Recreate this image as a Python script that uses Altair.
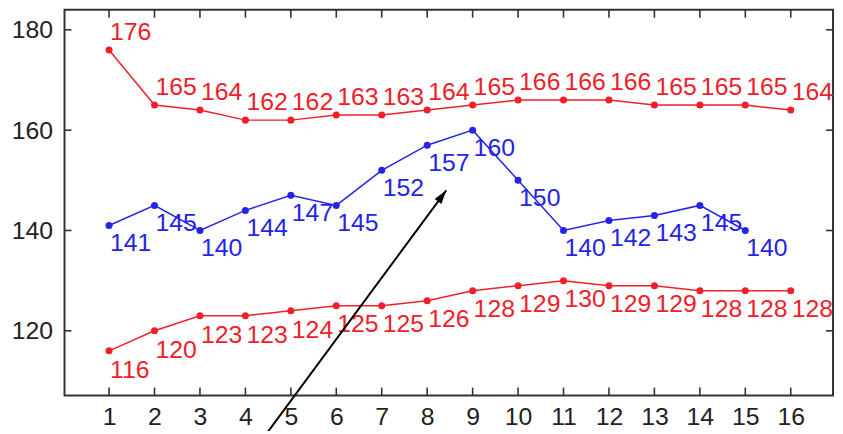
import altair as alt
import pandas as pd

# ---- data ----
x_upper = list(range(1, 17))
upper_red = [176, 165, 164, 162, 162, 163, 163, 164, 165, 166, 166, 166, 165, 165, 165, 164]
x_blue = list(range(1, 16))
blue = [141, 145, 140, 144, 147, 145, 152, 157, 160, 150, 140, 142, 143, 145, 140]
x_lower = list(range(1, 17))
lower_red = [116, 120, 123, 123, 124, 125, 125, 126, 128, 129, 130, 129, 129, 128, 128, 128]
x_ticks = list(range(1, 17))
y_ticks = [120, 140, 160, 180]
arrow_from = [4.49, 99.8]
arrow_to = [8.42, 148.0]

FONT = "Liberation Sans"
RED = "#f0202a"
BLUE = "#2424e6"
FRAME = "#333333"
W, H = 775, 389

xs = alt.Scale(domain=[0.02, 16.93], nice=False, zero=False)
ys = alt.Scale(domain=[107.1, 184.0], nice=False, zero=False)

xaxis = alt.Axis(values=x_ticks, labelFontSize=25, labelFont=FONT, ticks=False, tickSize=0,
                 domain=False, grid=False, labelPadding=9, title=None, labelColor="#222222",
                 labelFlush=False, labelOverlap=False)
yaxis = alt.Axis(values=y_ticks, labelFontSize=25, labelFont=FONT, ticks=False, tickSize=0,
                 domain=False, grid=False, labelPadding=12, title=None, labelColor="#222222",
                 labelFlush=False, labelOverlap=False)


def X(field="x"):
    return alt.X(f"{field}:Q", scale=xs, axis=xaxis)


def Y(field="y"):
    return alt.Y(f"{field}:Q", scale=ys, axis=yaxis)


def series(xv, yv, color, dy):
    df = pd.DataFrame({"x": xv, "y": yv})
    base = alt.Chart(df).encode(x=X(), y=Y())
    line = base.mark_line(color=color, strokeWidth=1.5)
    pts = base.mark_circle(color=color, size=50, opacity=1)
    txt = base.mark_text(color=color, align="left", baseline="alphabetic", dx=1, dy=dy,
                         fontSize=25, font=FONT).encode(text=alt.Text("y:Q", format="d"))
    return [line, pts, txt]


layers = []
layers += series(x_upper, upper_red, RED, -10)
layers += series(x_blue, blue, BLUE, 26)
layers += series(x_lower, lower_red, RED, 27)

# inward ticks on all four sides
xt = pd.DataFrame({"x": x_ticks})
yt = pd.DataFrame({"y": y_ticks})
layers.append(alt.Chart(xt).mark_rule(color=FRAME, strokeWidth=1.6).encode(
    x=X(), y=alt.value(H), y2=alt.value(H - 8)))
layers.append(alt.Chart(xt).mark_rule(color=FRAME, strokeWidth=1.6).encode(
    x=X(), y=alt.value(0), y2=alt.value(8)))
layers.append(alt.Chart(yt).mark_rule(color=FRAME, strokeWidth=1.6).encode(
    y=Y(), x=alt.value(0), x2=alt.value(7)))
layers.append(alt.Chart(yt).mark_rule(color=FRAME, strokeWidth=1.6).encode(
    y=Y(), x=alt.value(W), x2=alt.value(W - 7)))

# arrow
adf = pd.DataFrame({"x": [arrow_from[0]], "y": [arrow_from[1]],
                    "x2": [arrow_to[0]], "y2": [arrow_to[1]]})
layers.append(alt.Chart(adf).mark_rule(color="black", strokeWidth=2).encode(
    x=X(), y=Y(), x2="x2:Q", y2="y2:Q"))
hdf = pd.DataFrame({"x": [arrow_to[0]], "y": [arrow_to[1]]})
layers.append(alt.Chart(hdf).mark_point(
    shape="M0,0 L-0.3,1 L0.3,1 Z", filled=True, size=784, angle=36.4,
    color="black", opacity=1, strokeWidth=0).encode(x=X(), y=Y()))

chart = alt.layer(*layers).properties(
    width=W, height=H,
    autosize=alt.AutoSizeParams(type="none"),
    padding={"left": 57, "top": 0, "right": 2, "bottom": 34},
    background="white",
).configure_view(stroke=FRAME, strokeWidth=2)

chart.save("out.html", embed_options={"renderer": "svg", "actions": False})
